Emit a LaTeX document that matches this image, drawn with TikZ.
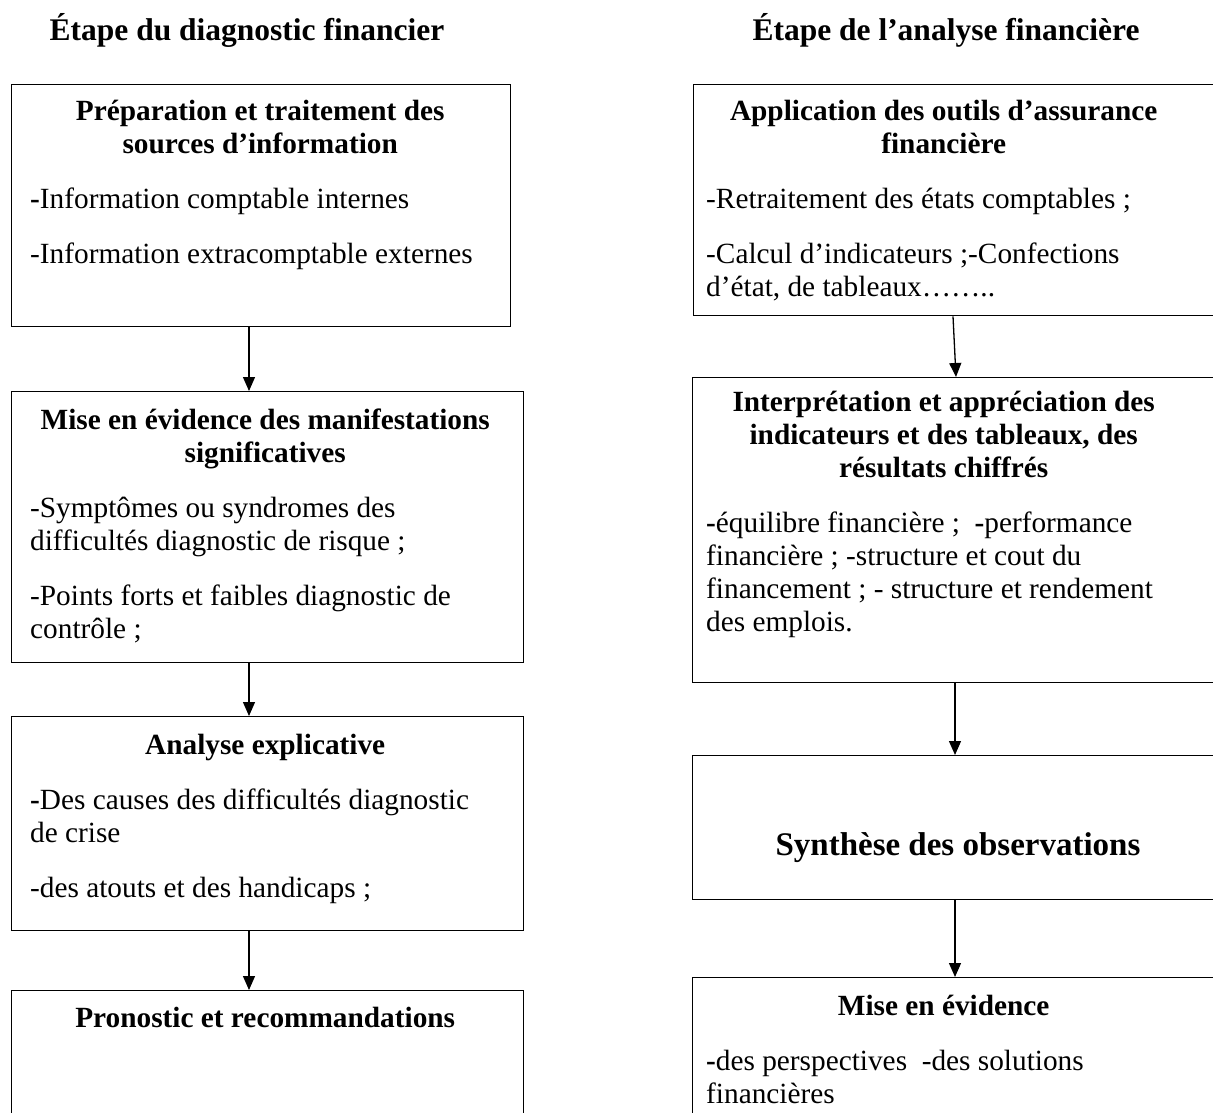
\documentclass[tikz,border=0pt]{standalone}
\usepackage{fontspec}
\setmainfont{Liberation Serif}
\usetikzlibrary{arrows.meta}
\begin{document}
\begin{tikzpicture}[x=1pt,y=-1pt,
  box/.style={draw, line width=1.3pt, inner sep=0pt, anchor=north west},
  arr/.style={line width=1.3pt, -{Triangle[length=14pt,width=12pt]}},
  txt/.style={anchor=base west, inner sep=0pt, font=\fontsize{29.3}{33}\selectfont},
  ttl/.style={anchor=base, inner sep=0pt, font=\fontsize{31.5}{36}\selectfont\bfseries}]
\useasboundingbox (0,0) rectangle (1213,1113);
\clip (0,0) rectangle (1213,1113);
\fill[white] (0,0) rectangle (1213,1113);
\coordinate (ax) at (249,0);
\coordinate (bx) at (955,0);
% titles
\node[ttl] (t1) at (247,41) {Étape du diagnostic financier};
\node[ttl] (t2) at (946,41) {Étape de l’analyse financière};
% left boxes
\node[box, minimum width=499pt, minimum height=242pt] (L1) at (11,84) {};
\node[box, minimum width=512pt, minimum height=271pt] (L2) at (11,391) {};
\node[box, minimum width=512pt, minimum height=214pt] (L3) at (11,716) {};
\node[box, minimum width=512pt, minimum height=160pt] (L4) at (11,990) {};
% right boxes
\node[box, minimum width=540pt, minimum height=231pt] (R1) at (693,84) {};
\node[box, minimum width=540pt, minimum height=305pt] (R2) at (692,377) {};
\node[box, minimum width=540pt, minimum height=144pt] (R3) at (692,755) {};
\node[box, minimum width=540pt, minimum height=160pt] (R4) at (692,977) {};
% left texts
\node[txt] (L1t) at (30,121) {\parbox[t]{460pt}{\centering\bfseries Préparation et traitement des\\ sources d’information\par
  \raggedright\mdseries\vspace{22pt}\textbf{-}Information comptable internes\par\vspace{22pt}
  -Information extracomptable externes}};
\node[txt] (L2t) at (30,429) {\parbox[t]{470pt}{\centering\bfseries Mise en évidence des manifestations\\ significatives\par
  \raggedright\mdseries\vspace{22pt}-Symptômes ou syndromes des\\ difficultés diagnostic de risque ;\par\vspace{22pt}
  -Points forts et faibles diagnostic de\\ contrôle ;}};
\node[txt] (L3t) at (30,754) {\parbox[t]{470pt}{\centering\bfseries Analyse explicative\par
  \raggedright\mdseries\vspace{22pt}\textbf{-}Des causes des difficultés diagnostic\\ de crise\par\vspace{22pt}
  -des atouts et des handicaps ;}};
\node[txt] (L4t) at (30,1027) {\parbox[t]{470pt}{\centering\bfseries Pronostic et recommandations}};
% right texts
\node[txt] (R1t) at (706,121) {\parbox[t]{475pt}{\centering\bfseries Application des outils d’assurance\\ financière\par
  \raggedright\mdseries\vspace{22pt}-Retraitement des états comptables ;\par\vspace{22pt}
  -Calcul d’indicateurs ;-Confections\\ d’état, de tableaux……..}};
\node[txt] (R2t) at (706,411) {\parbox[t]{475pt}{\centering\bfseries Interprétation et appréciation des\\ indicateurs et des tableaux, des\\ résultats chiffrés\par
  \raggedright\mdseries\vspace{22pt}\textbf{-}équilibre financière ;\ \ \textbf{-}performance\\ financière ; -structure et cout du\\ financement ; - structure et rendement\\ des emplois.}};
\node[txt, font=\fontsize{33}{38}\selectfont\bfseries, anchor=base] (R3t) at (958,855) {Synthèse des observations};
\node[txt] (R4t) at (706,1015) {\parbox[t]{475pt}{\centering\bfseries Mise en évidence\par
  \raggedright\mdseries\vspace{22pt}\textbf{-}des perspectives\ \ -des solutions\\ financières}};
% arrows
\draw[arr] (L1.south -| ax) -- (L2.north -| ax);
\draw[arr] (L2.south -| ax) -- (L3.north -| ax);
\draw[arr] (L3.south -| ax) -- (L4.north -| ax);
\draw[arr] ([xshift=-2pt]R1.south -| bx) -- ([xshift=1pt]R2.north -| bx);
\draw[arr] (R2.south -| bx) -- (R3.north -| bx);
\draw[arr] (R3.south -| bx) -- (R4.north -| bx);
\end{tikzpicture}
\end{document}
